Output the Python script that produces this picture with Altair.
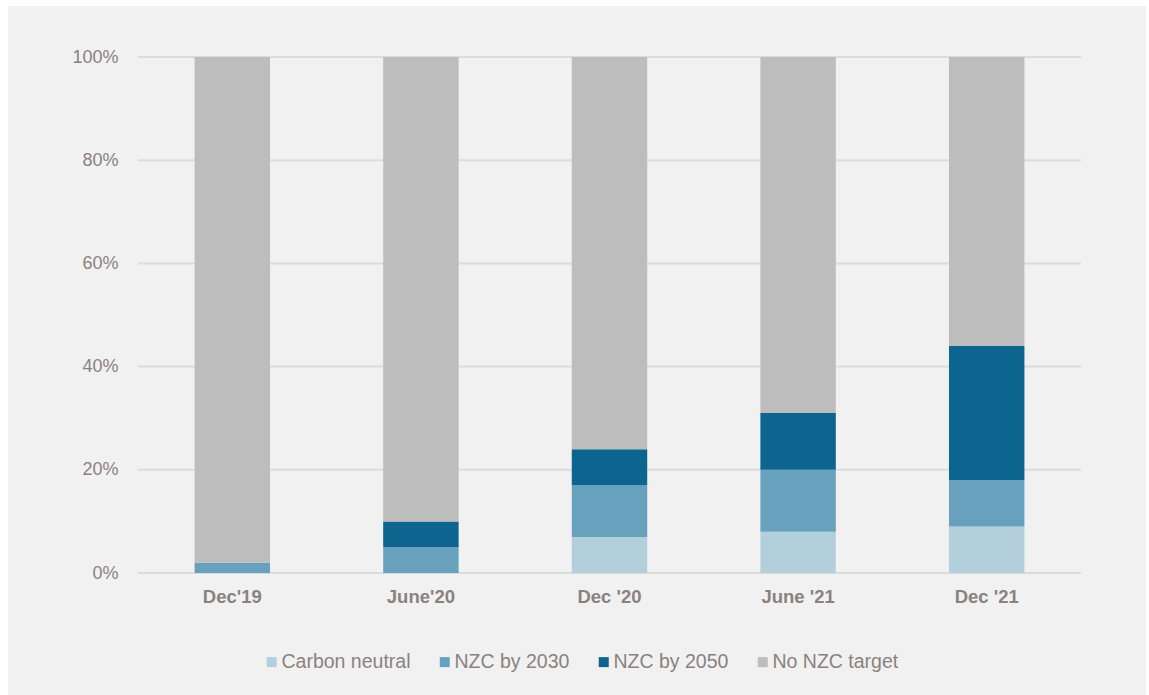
import altair as alt
import pandas as pd

periods = ["Dec'19", "June'20", "Dec '20", "June '21", "Dec '21"]
categories = ["Carbon neutral", "NZC by 2030", "NZC by 2050", "No NZC target"]
carbon_neutral = [0, 0, 7, 8, 9]
nzc_2030 = [2, 5, 10, 12, 9]
nzc_2050 = [0, 5, 7, 11, 26]
no_target = [98, 90, 76, 69, 56]
colors = ["#b3cfdc", "#68a1bd", "#0c648f", "#bdbdbd"]
y_ticks = [0, 0.2, 0.4, 0.6, 0.8, 1.0]

series = [carbon_neutral, nzc_2030, nzc_2050, no_target]
rows = []
for ci, (cat, vals) in enumerate(zip(categories, series)):
    for p, v in zip(periods, vals):
        rows.append({"period": p, "category": cat, "value": v / 100.0, "order": ci})
df = pd.DataFrame(rows)

FONT = "Liberation Sans"
TXT = "#8a8280"

yscale = alt.Scale(domain=[0, 1], nice=False)
yaxis = alt.Axis(format="%", values=y_ticks, domain=False, ticks=False,
                 labelPadding=20, labelFontSize=18, labelColor=TXT,
                 labelFont=FONT, grid=False, zindex=1)

bg = alt.Chart(pd.DataFrame({"a": [0]})).mark_rect(color="#f1f1f1").encode(
    x=alt.value(-130), x2=alt.value(1008), y=alt.value(-51), y2=alt.value(640)
)

grid = alt.Chart(pd.DataFrame({"t": y_ticks})).mark_rule(color="#dcdcdc", strokeWidth=2).encode(
    y=alt.Y("t:Q", scale=yscale, axis=yaxis, title=None)
)

bars = alt.Chart(df).mark_bar(stroke=None).encode(
    x=alt.X("period:N", sort=periods, title=None,
            scale=alt.Scale(paddingInner=0.6, paddingOuter=0.3),
            axis=alt.Axis(labelAngle=0, domain=False, ticks=False, labelPadding=14,
                          labelFontSize=18.5, labelFontWeight="bold", labelColor=TXT,
                          labelFont=FONT, grid=False, zindex=1)),
    y=alt.Y("value:Q", stack="zero", title=None, scale=yscale, axis=yaxis),
    color=alt.Color("category:N", sort=categories,
                    scale=alt.Scale(domain=categories, range=colors),
                    legend=alt.Legend(title=None, orient="none", direction="horizontal",
                                      legendX=124, legendY=595, padding=0,
                                      symbolType="square",
                                      symbolSize=100, symbolStrokeWidth=0,
                                      labelFontSize=19.5, labelColor=TXT, labelFont=FONT,
                                      labelOffset=0, columnPadding=24)),
    order=alt.Order("order:Q", sort="ascending"),
)

chart = alt.layer(bg, grid, bars).properties(
    width=943, height=516,
    autosize=alt.AutoSizeParams(type="none"),
    padding={"left": 138, "top": 57, "right": 68, "bottom": 122},
    background="white",
).configure_view(stroke=None)

chart.save("out.html", embed_options={"renderer": "svg", "actions": False})
